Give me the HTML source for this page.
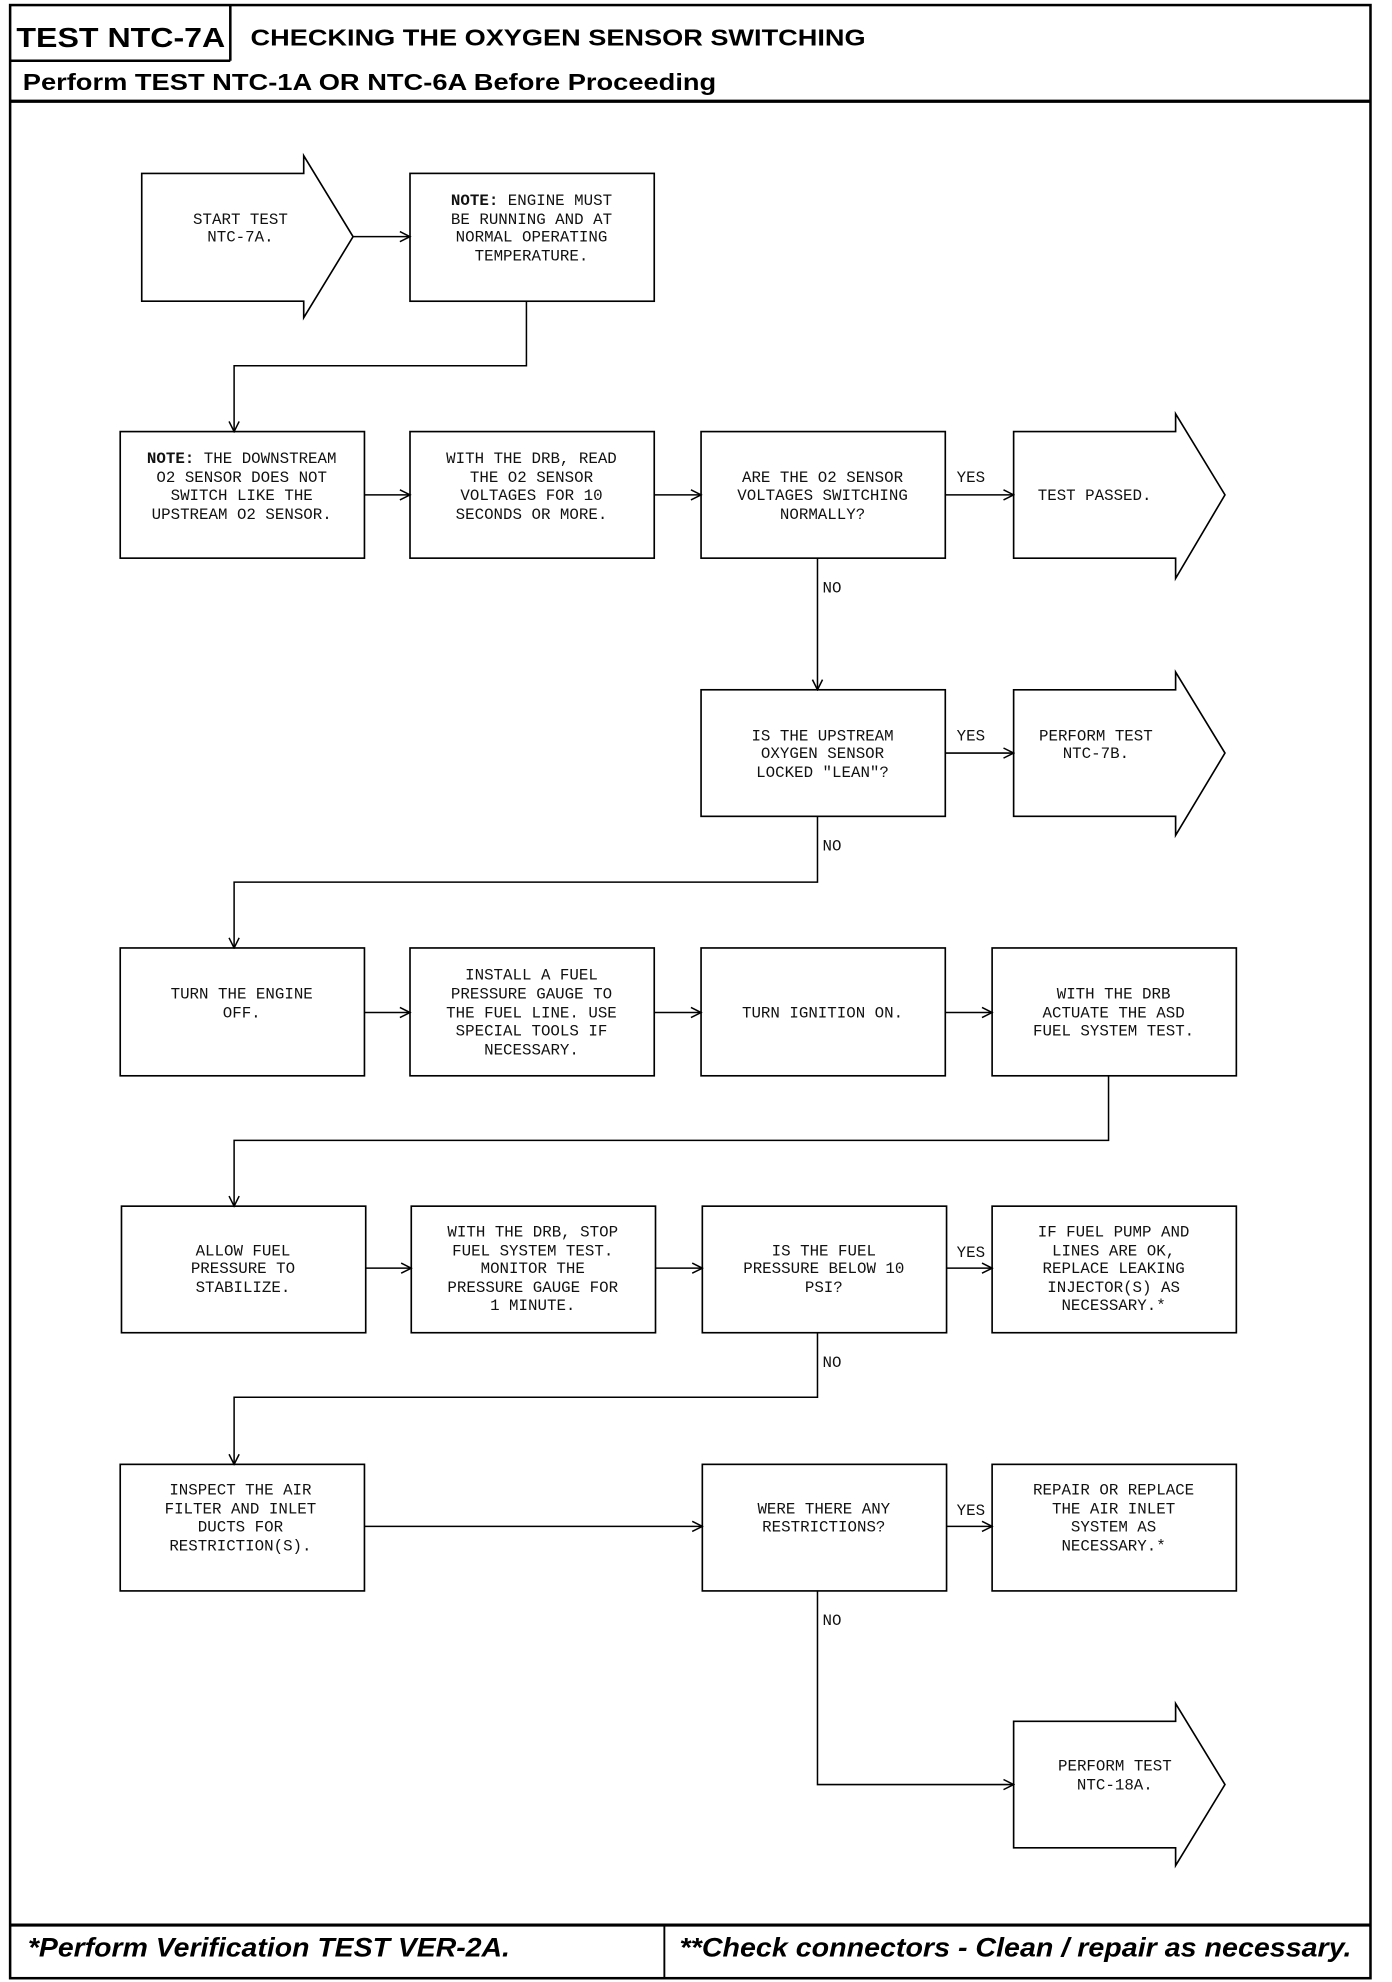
<!DOCTYPE html>
<html><head><meta charset="utf-8"><style>
html,body{margin:0;padding:0;background:#fff;}
svg{display:block;}
.t{font-family:"Liberation Mono",monospace;font-size:12.5px;fill:#111;text-anchor:middle;}
.l{font-family:"Liberation Mono",monospace;font-size:12.5px;fill:#111;}
.h{font-family:"Liberation Sans",sans-serif;font-weight:bold;fill:#000;}
</style></head><body>
<svg width="1392" height="1982" viewBox="0 0 1100 1566" preserveAspectRatio="none" xmlns="http://www.w3.org/2000/svg">
<defs><marker id="a" markerWidth="10" markerHeight="10" refX="9" refY="5" orient="auto" markerUnits="userSpaceOnUse"><path d="M1,1 L9,5 L1,9" fill="none" stroke="#000" stroke-width="1.2"/></marker></defs>
<g fill="none" stroke="#000">
<rect x="8" y="4" width="1075" height="1559" stroke-width="2"/>
<line x1="8" y1="80" x2="1083" y2="80" stroke-width="2.5"/>
<line x1="8" y1="48" x2="182" y2="48" stroke-width="2"/>
<line x1="182" y1="4" x2="182" y2="48" stroke-width="2"/>
<line x1="8" y1="1521" x2="1083" y2="1521" stroke-width="2.5"/>
<line x1="525" y1="1521" x2="525" y2="1563" stroke-width="1.5"/>
<g stroke-width="1.3">
<path d="M112,137 H240 V123 L279,187 L240,251 V238 H112 Z"/>
<rect x="324" y="137" width="193" height="101"/>
<rect x="95" y="341" width="193" height="100"/>
<rect x="324" y="341" width="193" height="100"/>
<rect x="554" y="341" width="193" height="100"/>
<path d="M801,341 H929 V327 L968,391 L929,457 V441 H801 Z"/>
<rect x="554" y="545" width="193" height="100"/>
<path d="M801,545 H929 V531 L968,595 L929,660 V645 H801 Z"/>
<rect x="95" y="749" width="193" height="101"/>
<rect x="324" y="749" width="193" height="101"/>
<rect x="554" y="749" width="193" height="101"/>
<rect x="784" y="749" width="193" height="101"/>
<rect x="96" y="953" width="193" height="100"/>
<rect x="325" y="953" width="193" height="100"/>
<rect x="555" y="953" width="193" height="100"/>
<rect x="784" y="953" width="193" height="100"/>
<rect x="95" y="1157" width="193" height="100"/>
<rect x="555" y="1157" width="193" height="100"/>
<rect x="784" y="1157" width="193" height="100"/>
<path d="M801,1360 H929 V1346 L968,1410 L929,1474 V1460 H801 Z"/>
</g>
<g stroke-width="1.2" marker-end="url(#a)">
<line x1="279" y1="187" x2="324" y2="187"/>
<polyline points="416,238 416,289 185,289 185,341"/>
<line x1="288" y1="391" x2="324" y2="391"/>
<line x1="517" y1="391" x2="554" y2="391"/>
<line x1="747" y1="391" x2="801" y2="391"/>
<line x1="646" y1="441" x2="646" y2="545"/>
<line x1="747" y1="595" x2="801" y2="595"/>
<polyline points="646,645 646,697 185,697 185,749"/>
<line x1="288" y1="800" x2="324" y2="800"/>
<line x1="517" y1="800" x2="554" y2="800"/>
<line x1="747" y1="800" x2="784" y2="800"/>
<polyline points="876,850 876,901 185,901 185,953"/>
<line x1="289" y1="1002" x2="325" y2="1002"/>
<line x1="518" y1="1002" x2="555" y2="1002"/>
<line x1="748" y1="1002" x2="784" y2="1002"/>
<polyline points="646,1053 646,1104 185,1104 185,1157"/>
<line x1="288" y1="1206" x2="555" y2="1206"/>
<line x1="748" y1="1206" x2="784" y2="1206"/>
<polyline points="646,1257 646,1410 801,1410"/>
</g>
</g>
<text class="h" x="13" y="37" font-size="22" textLength="165" lengthAdjust="spacingAndGlyphs">TEST NTC-7A</text>
<text class="h" x="198" y="36" font-size="18" textLength="486" lengthAdjust="spacingAndGlyphs">CHECKING THE OXYGEN SENSOR SWITCHING</text>
<text class="h" x="18" y="71" font-size="18" textLength="548" lengthAdjust="spacingAndGlyphs">Perform TEST NTC-1A OR NTC-6A Before Proceeding</text>
<text class="h" x="22" y="1546" font-size="21" font-style="italic" textLength="381" lengthAdjust="spacingAndGlyphs">*Perform Verification TEST VER-2A.</text>
<text class="h" x="537" y="1546" font-size="21" font-style="italic" textLength="531" lengthAdjust="spacingAndGlyphs">**Check connectors - Clean / repair as necessary.</text>
<g class="t">
<text x="190" y="177">START TEST</text><text x="190" y="191">NTC-7A.</text>
<text x="420" y="162"><tspan font-weight="bold">NOTE:</tspan> ENGINE MUST</text><text x="420" y="177">BE RUNNING AND AT</text><text x="420" y="191">NORMAL OPERATING</text><text x="420" y="206">TEMPERATURE.</text>
<text x="191" y="366"><tspan font-weight="bold">NOTE:</tspan> THE DOWNSTREAM</text><text x="191" y="381">O2 SENSOR DOES NOT</text><text x="191" y="395">SWITCH LIKE THE</text><text x="191" y="410">UPSTREAM O2 SENSOR.</text>
<text x="420" y="366">WITH THE DRB, READ</text><text x="420" y="381">THE O2 SENSOR</text><text x="420" y="395">VOLTAGES FOR 10</text><text x="420" y="410">SECONDS OR MORE.</text>
<text x="650" y="381">ARE THE O2 SENSOR</text><text x="650" y="395">VOLTAGES SWITCHING</text><text x="650" y="410">NORMALLY?</text>
<text x="865" y="395">TEST PASSED.</text>
<text x="650" y="585">IS THE UPSTREAM</text><text x="650" y="599">OXYGEN SENSOR</text><text x="650" y="614">LOCKED "LEAN"?</text>
<text x="866" y="585">PERFORM TEST</text><text x="866" y="599">NTC-7B.</text>
<text x="191" y="789">TURN THE ENGINE</text><text x="191" y="804">OFF.</text>
<text x="420" y="774">INSTALL A FUEL</text><text x="420" y="789">PRESSURE GAUGE TO</text><text x="420" y="804">THE FUEL LINE. USE</text><text x="420" y="818">SPECIAL TOOLS IF</text><text x="420" y="833">NECESSARY.</text>
<text x="650" y="804">TURN IGNITION ON.</text>
<text x="880" y="789">WITH THE DRB</text><text x="880" y="804">ACTUATE THE ASD</text><text x="880" y="818">FUEL SYSTEM TEST.</text>
<text x="192" y="992">ALLOW FUEL</text><text x="192" y="1006">PRESSURE TO</text><text x="192" y="1021">STABILIZE.</text>
<text x="421" y="977">WITH THE DRB, STOP</text><text x="421" y="992">FUEL SYSTEM TEST.</text><text x="421" y="1006">MONITOR THE</text><text x="421" y="1021">PRESSURE GAUGE FOR</text><text x="421" y="1035">1 MINUTE.</text>
<text x="651" y="992">IS THE FUEL</text><text x="651" y="1006">PRESSURE BELOW 10</text><text x="651" y="1021">PSI?</text>
<text x="880" y="977">IF FUEL PUMP AND</text><text x="880" y="992">LINES ARE OK,</text><text x="880" y="1006">REPLACE LEAKING</text><text x="880" y="1021">INJECTOR(S) AS</text><text x="880" y="1035">NECESSARY.*</text>
<text x="190" y="1181">INSPECT THE AIR</text><text x="190" y="1196">FILTER AND INLET</text><text x="190" y="1210">DUCTS FOR</text><text x="190" y="1225">RESTRICTION(S).</text>
<text x="651" y="1196">WERE THERE ANY</text><text x="651" y="1210">RESTRICTIONS?</text>
<text x="880" y="1181">REPAIR OR REPLACE</text><text x="880" y="1196">THE AIR INLET</text><text x="880" y="1210">SYSTEM AS</text><text x="880" y="1225">NECESSARY.*</text>
<text x="881" y="1399">PERFORM TEST</text><text x="881" y="1414">NTC-18A.</text>
</g>
<g class="l">
<text x="756" y="381">YES</text><text x="756" y="585">YES</text><text x="756" y="993">YES</text><text x="756" y="1197">YES</text>
<text x="650" y="468">NO</text><text x="650" y="672">NO</text><text x="650" y="1080">NO</text><text x="650" y="1284">NO</text>
</g>
</svg>
</body></html>
